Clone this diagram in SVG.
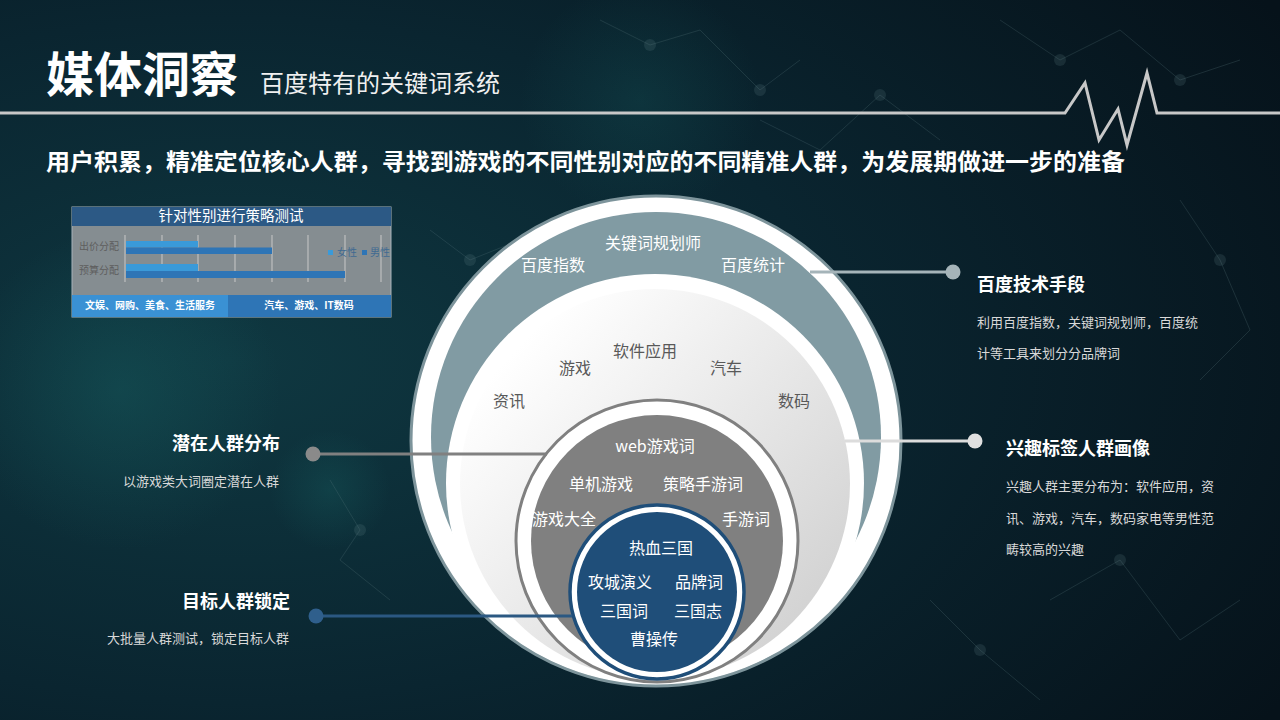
<svg xmlns="http://www.w3.org/2000/svg" width="1280" height="720" viewBox="0 0 1280 720">
<defs>
<radialGradient id="bg" cx="0.18" cy="0.5" r="0.95">
<stop offset="0" stop-color="#0f3841"/>
<stop offset="0.5" stop-color="#0a2530"/>
<stop offset="1" stop-color="#06121a"/>
</radialGradient>
<radialGradient id="glow" cx="0.5" cy="0.5" r="0.5">
<stop offset="0" stop-color="#1a6a6a" stop-opacity="0.55"/>
<stop offset="1" stop-color="#1a6a6a" stop-opacity="0"/>
</radialGradient>
<linearGradient id="light" x1="0.15" y1="0.15" x2="0.9" y2="0.85">
<stop offset="0" stop-color="#ffffff"/>
<stop offset="1" stop-color="#d2d2d2"/>
</linearGradient>
<clipPath id="outerClip"><circle cx="656" cy="441" r="243"/></clipPath>
<style>
.cjk{font-family:"Noto Sans CJK SC","Noto Sans",sans-serif}
.b{font-weight:bold}
.w{fill:#ffffff}
.dk{fill:#595959}
.desc{fill:#d9d9d9;font-size:13px}
.head{fill:#ffffff;font-size:18px;font-weight:bold}
.ck{font-size:16px}
.net{stroke:#5a7a80;stroke-width:1;fill:none;opacity:0.25}
.nd{fill:#6a8a90;opacity:0.18}
</style>
</defs>

<rect x="0" y="0" width="1280" height="720" fill="url(#bg)"/>
<circle cx="120" cy="390" r="160" fill="url(#glow)" opacity="0.6"/>
<circle cx="640" cy="100" r="120" fill="url(#glow)" opacity="0.4"/>
<circle cx="330" cy="490" r="60" fill="url(#glow)" opacity="0.5"/>

<g id="background-network">
<polyline class="net" points="600,20 650,45 700,30 760,90 800,60"/>
<polyline class="net" points="760,120 820,150 880,95 940,140"/>
<polyline class="net" points="430,230 470,260 520,240"/>
<polyline class="net" points="1000,20 1060,60 1120,30 1180,80 1240,60"/>
<polyline class="net" points="1180,200 1220,260 1250,330 1200,380"/>
<polyline class="net" points="330,480 360,530 340,560 390,600"/>
<polyline class="net" points="1050,600 1120,560 1180,640 1240,600"/>
<polyline class="net" points="930,600 980,650 1040,700"/>
<circle class="nd" cx="650" cy="45" r="6"/><circle class="nd" cx="760" cy="90" r="6"/>
<circle class="nd" cx="880" cy="95" r="6"/><circle class="nd" cx="1060" cy="60" r="6"/>
<circle class="nd" cx="1180" cy="80" r="6"/><circle class="nd" cx="1220" cy="260" r="6"/>
<circle class="nd" cx="360" cy="530" r="6"/><circle class="nd" cx="1120" cy="560" r="6"/>
<circle class="nd" cx="980" cy="650" r="6"/><circle class="nd" cx="470" cy="260" r="6"/>
</g>

<g id="header">
<text x="46" y="92" class="cjk b w" font-size="48">媒体洞察</text>
<text x="260" y="92" class="cjk" font-size="24" fill="#f0f0f0">百度特有的关键词系统</text>
<polyline points="0,113 1065,113 1085,83 1099,140 1118,109 1127,145 1147,73 1157,113 1280,113" fill="none" stroke="#c8c8c8" stroke-width="3" stroke-linejoin="miter"/>
<text x="46" y="170" class="cjk b w" font-size="23" textLength="1079" lengthAdjust="spacingAndGlyphs">用户积累，精准定位核心人群，寻找到游戏的不同性别对应的不同精准人群，为发展期做进一步的准备</text>
</g>

<g id="chart">
<rect x="72" y="207" width="319" height="110" fill="#858d91" stroke="#a8b4bc" stroke-width="1"/>
<rect x="72" y="207" width="319" height="19" fill="#2c5985"/>
<text x="231" y="221" text-anchor="middle" class="cjk w" font-size="14.5">针对性别进行策略测试</text>
<g stroke="#c8c8c8" stroke-width="1">
<line x1="125" y1="235" x2="125" y2="282"/><line x1="162" y1="235" x2="162" y2="282"/>
<line x1="198" y1="235" x2="198" y2="282"/><line x1="235" y1="235" x2="235" y2="282"/>
<line x1="272" y1="235" x2="272" y2="282"/><line x1="308" y1="235" x2="308" y2="282"/>
<line x1="345" y1="235" x2="345" y2="282"/><line x1="381" y1="235" x2="381" y2="282"/>
</g>
<rect x="126" y="241" width="72" height="6.5" fill="#3a9ad9"/>
<rect x="126" y="247.5" width="146" height="6.5" fill="#2e75b6"/>
<rect x="126" y="264" width="72" height="7" fill="#3a9ad9"/>
<rect x="126" y="271" width="219" height="7" fill="#2e75b6"/>
<text x="79" y="250" class="cjk" font-size="10" fill="#5e5e5e">出价分配</text>
<text x="79" y="274" class="cjk" font-size="10" fill="#5e5e5e">预算分配</text>
<rect x="328" y="250" width="5" height="5" fill="#3a9ad9"/>
<text x="337" y="256" class="cjk" font-size="10" fill="#3f6a92">女性</text>
<rect x="362" y="250" width="5" height="5" fill="#2e75b6"/>
<text x="370" y="256" class="cjk" font-size="10" fill="#3f6a92">男性</text>
<rect x="72" y="295" width="156" height="22" fill="#3a91d4"/>
<rect x="228" y="295" width="163" height="22" fill="#2e75b6"/>
<text x="150" y="309" text-anchor="middle" class="cjk b w" font-size="10">文娱、网购、美食、生活服务</text>
<text x="309" y="309" text-anchor="middle" class="cjk b w" font-size="10">汽车、游戏、IT数码</text>
</g>

<g id="circle-outer">
<circle cx="656" cy="441" r="245" fill="#ffffff" stroke="#7d949b" stroke-width="3"/>
<g clip-path="url(#outerClip)">
<circle cx="656" cy="437" r="225" fill="#819ba3"/>
<circle cx="655" cy="483" r="209" fill="#ffffff"/>
</g>
<text x="653" y="249" text-anchor="middle" class="cjk w ck">关键词规划师</text>
<text x="553" y="271" text-anchor="middle" class="cjk w ck">百度指数</text>
<text x="753" y="271" text-anchor="middle" class="cjk w ck">百度统计</text>
</g>

<g id="circle-interest">
<circle cx="655" cy="484" r="195" fill="url(#light)"/>
<text x="645" y="357" text-anchor="middle" class="cjk dk ck">软件应用</text>
<text x="575" y="374" text-anchor="middle" class="cjk dk ck">游戏</text>
<text x="726" y="374" text-anchor="middle" class="cjk dk ck">汽车</text>
<text x="509" y="407" text-anchor="middle" class="cjk dk ck">资讯</text>
<text x="794" y="407" text-anchor="middle" class="cjk dk ck">数码</text>
</g>

<g id="circle-potential">
<circle cx="657" cy="541" r="141" fill="#ffffff" stroke="#808080" stroke-width="3"/>
<circle cx="657" cy="541" r="126" fill="#808080"/>
<text x="655" y="452" text-anchor="middle" class="cjk w ck">web游戏词</text>
<text x="601" y="490" text-anchor="middle" class="cjk w ck">单机游戏</text>
<text x="703" y="490" text-anchor="middle" class="cjk w ck">策略手游词</text>
<text x="532" y="525" class="cjk w ck">游戏大全</text>
<text x="746" y="525" text-anchor="middle" class="cjk w ck">手游词</text>
</g>

<g id="circle-target">
<circle cx="657" cy="592" r="87" fill="#ffffff" stroke="#1f4e79" stroke-width="3.5"/>
<circle cx="657" cy="592" r="80" fill="#1f4e79"/>
<text x="661" y="554" text-anchor="middle" class="cjk w ck">热血三国</text>
<text x="620" y="588" text-anchor="middle" class="cjk w ck">攻城演义</text>
<text x="699" y="588" text-anchor="middle" class="cjk w ck">品牌词</text>
<text x="624" y="617" text-anchor="middle" class="cjk w ck">三国词</text>
<text x="698" y="617" text-anchor="middle" class="cjk w ck">三国志</text>
<text x="654" y="645" text-anchor="middle" class="cjk w ck">曹操传</text>
</g>

<g id="connectors">
<line x1="810" y1="272" x2="953" y2="272" stroke="#a5b4b9" stroke-width="3"/>
<circle cx="953" cy="272" r="7.5" fill="#a5b4b9"/>
<line x1="845" y1="441" x2="975" y2="441" stroke="#dcdcdc" stroke-width="3"/>
<circle cx="975" cy="441" r="7.5" fill="#e0e0e0"/>
<line x1="313" y1="454" x2="547" y2="454" stroke="#808080" stroke-width="3"/>
<circle cx="313" cy="454" r="7.5" fill="#8a8a8a"/>
<line x1="316" y1="616" x2="572" y2="616" stroke="#2b5882" stroke-width="3"/>
<circle cx="316" cy="616" r="7.5" fill="#2f5f8c"/>
</g>

<g id="label-baidu">
<text x="977" y="291" class="cjk head">百度技术手段</text>
<text x="977" y="327" class="cjk desc">利用百度指数，关键词规划师，百度统</text>
<text x="977" y="358" class="cjk desc">计等工具来划分分品牌词</text>
</g>
<g id="label-interest">
<text x="1006" y="455" class="cjk head">兴趣标签人群画像</text>
<text x="1006" y="491" class="cjk desc">兴趣人群主要分布为：软件应用，资</text>
<text x="1006" y="523" class="cjk desc">讯、游戏，汽车，数码家电等男性范</text>
<text x="1006" y="554" class="cjk desc">畴较高的兴趣</text>
</g>
<g id="label-potential">
<text x="280" y="450" text-anchor="end" class="cjk head">潜在人群分布</text>
<text x="279" y="486" text-anchor="end" class="cjk desc">以游戏类大词圈定潜在人群</text>
</g>
<g id="label-target">
<text x="290" y="608" text-anchor="end" class="cjk head">目标人群锁定</text>
<text x="289" y="643" text-anchor="end" class="cjk desc">大批量人群测试，锁定目标人群</text>
</g>
</svg>
